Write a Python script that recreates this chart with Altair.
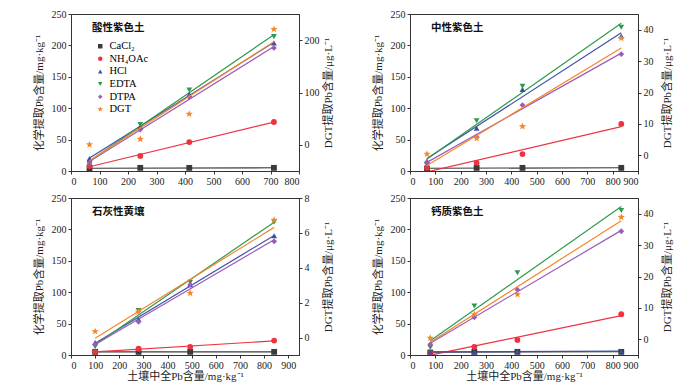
import altair as alt
import pandas as pd
import numpy as np

# ---------------- data ----------------
methods = ["CaCl₂", "NH₄OAc", "HCl", "EDTA", "DTPA"]
dgt_name = "DGT"
soils = ["酸性紫色土", "中性紫色土", "石灰性黄壤", "钙质紫色土"]

# total Pb in soil, mg/kg
x_acid = [65, 243, 415, 712]
x_neutral = [67, 263, 444, 834]
x_lime = [100, 280, 494, 842]
x_calc = [80, 254, 424, 834]

# chemically extracted Pb, mg/kg
acid_cacl2 = [4, 5, 5, 5]
acid_nh4oac = [8, 24, 46, 78]
acid_hcl = [20, 71, 122, 204]
acid_edta = [12, 74, 129, 214]
acid_dtpa = [13, 66, 118, 196]
acid_dgt = [0.4, 11, 59, 221]          # µg/L

neutral_cacl2 = [4, 5, 5, 5]
neutral_nh4oac = [5, 13, 27, 75]
neutral_hcl = [16, 68, 130, 215]
neutral_edta = [10, 80, 135, 229]
neutral_dtpa = [14, 54, 105, 186]
neutral_dgt = [0.4, 5.4, 9.2, 37.3]

lime_cacl2 = [5, 5, 5, 5]
lime_nh4oac = [5, 10, 13, 23]
lime_hcl = [20, 57, 112, 190]
lime_edta = [13, 71, 116, 212]
lime_dtpa = [17, 53, 112, 181]
lime_dgt = [0.35, 1.47, 2.55, 6.74]

calc_cacl2 = [4, 5, 5, 5]
calc_nh4oac = [3, 13, 24, 65]
calc_hcl = [5, 5, 6, 6]
calc_edta = [12, 78, 131, 230]
calc_dtpa = [17, 60, 104, 197]
calc_dgt = [0.4, 7.9, 14.3, 38.9]

# ---------------- styling ----------------
FONT = "Liberation Serif, Noto Sans CJK SC"
all_methods = methods + [dgt_name]
colors = ["#3a3a3a", "#ee3340", "#3d4fa3", "#2f9a4f", "#9a5cba", "#f5862a"]
ang = [-np.pi / 2 + k * np.pi / 5 for k in range(10)]
rad = [1.3 if k % 2 == 0 else 0.55 for k in range(10)]
star = "M" + " L".join(f"{r*np.cos(a):.3f},{r*np.sin(a):.3f}" for r, a in zip(rad, ang)) + " Z"
shapes = ["square", "circle", "triangle-up", "triangle-down", "diamond", star]

XTITLE = "土壤中全Pb含量/mg·kg⁻¹"
YTITLE = "化学提取Pb含量/mg·kg⁻¹"
RTITLE = "DGT提取Pb含量/μg·L⁻¹"

panels = [
    dict(soil=soils[0], x=x_acid,
         chem=[acid_cacl2, acid_nh4oac, acid_hcl, acid_edta, acid_dtpa], dgt=acid_dgt,
         xmax=800, rdom=[-50, 250], rticks=[0, 100, 200], tp=3.5, xtitle=False, legend=True),
    dict(soil=soils[1], x=x_neutral,
         chem=[neutral_cacl2, neutral_nh4oac, neutral_hcl, neutral_edta, neutral_dtpa], dgt=neutral_dgt,
         xmax=900, rdom=[-5, 45], rticks=[0, 10, 20, 30, 40], tp=8.5, xtitle=False, legend=False),
    dict(soil=soils[2], x=x_lime,
         chem=[lime_cacl2, lime_nh4oac, lime_hcl, lime_edta, lime_dtpa], dgt=lime_dgt,
         xmax=945, rdom=[-1, 8], rticks=[0, 2, 4, 6, 8], tp=13.5, xtitle=True, legend=False),
    dict(soil=soils[3], x=x_calc,
         chem=[calc_cacl2, calc_nh4oac, calc_hcl, calc_edta, calc_dtpa], dgt=calc_dgt,
         xmax=900, rdom=[-5, 45], rticks=[0, 10, 20, 30, 40], tp=8.5, xtitle=True, legend=False),
]

W, H = 228, 157


def make_panel(cfg):
    rows = []
    for m, ys in zip(methods, cfg["chem"]):
        for xv, yv in zip(cfg["x"], ys):
            rows.append({"method": m, "x": xv, "y": yv})
    chem = pd.DataFrame(rows)
    dgt = pd.DataFrame({"method": dgt_name, "x": cfg["x"], "y": cfg["dgt"]})

    xvals = list(range(0, min(cfg["xmax"], 900) + 1, 100))
    if cfg["xtitle"]:
        xaxis = alt.Axis(values=xvals, title=XTITLE, titleY=21, titleBaseline="middle")
    else:
        xaxis = alt.Axis(values=xvals, title=None)
    xenc = alt.X("x:Q", scale=alt.Scale(domain=[0, cfg["xmax"]], nice=False, zero=False), axis=xaxis)
    yleft = alt.Y("y:Q", scale=alt.Scale(domain=[0, 250], nice=False),
                  axis=alt.Axis(orient="left", values=[0, 50, 100, 150, 200, 250],
                                title=YTITLE, titlePadding=7))
    yright = alt.Y("y:Q", scale=alt.Scale(domain=cfg["rdom"], nice=False, zero=False),
                   axis=alt.Axis(orient="right", values=cfg["rticks"], title=RTITLE,
                                 titleAngle=270, titleBaseline="top", titlePadding=cfg["tp"]))

    if cfg["legend"]:
        leg = alt.Legend(title=None, orient="none", legendX=24, legendY=27,
                         labelFontSize=10.5, symbolSize=20, rowPadding=1.6,
                         labelOffset=4, padding=0, symbolStrokeWidth=0, labelFont=FONT)
    else:
        leg = None
    cscale = alt.Scale(domain=all_methods, range=colors)
    sscale = alt.Scale(domain=all_methods, range=shapes)
    color = alt.Color("method:N", scale=cscale, legend=leg)
    shape = alt.Shape("method:N", scale=sscale, legend=leg)
    stroke = alt.Stroke("method:N", scale=cscale, legend=None)

    chem_lines = alt.Chart(chem).transform_regression(
        "x", "y", groupby=["method"]).mark_line(clip=True, strokeWidth=1.2).encode(
        x=xenc, y=yleft, stroke=stroke)
    chem_pts = alt.Chart(chem).mark_point(filled=True, size=34, opacity=1, clip=True).encode(
        x=xenc, y=yleft, color=color, shape=shape)
    title = alt.Chart(pd.DataFrame({"label": [cfg["soil"]]})).mark_text(
        align="left", baseline="middle", fontSize=10.5, fontWeight="bold", font=FONT, color="#111"
    ).encode(text="label:N", x=alt.value(21), y=alt.value(14))

    dgt_line = alt.Chart(dgt).transform_regression(
        "x", "y", groupby=["method"]).mark_line(clip=True, strokeWidth=1.2).encode(
        x=xenc, y=yright, stroke=stroke)
    dgt_pts = alt.Chart(dgt).mark_point(filled=True, size=34, opacity=1, clip=True).encode(
        x=xenc, y=yright, color=color, shape=shape)

    left = alt.layer(chem_lines, chem_pts, title)
    right = alt.layer(dgt_line, dgt_pts)
    return alt.layer(left, right).resolve_scale(y="independent").properties(width=W, height=H)


charts = [make_panel(c) for c in panels]

chart = alt.concat(*charts, columns=2, spacing={"row": 5, "column": 37}).resolve_scale(
    color="independent", shape="independent"
).properties(
    padding={"left": 24, "top": 0, "right": 5, "bottom": 5}
).configure(font=FONT).configure_view(
    stroke="#333", strokeWidth=1
).configure_axis(
    labelFontSize=10, titleFontSize=11, titleFontWeight="normal",
    labelFont=FONT, titleFont=FONT,
    tickSize=3, labelPadding=2, grid=False,
    domainColor="#333", tickColor="#333", labelColor="#222", titleColor="#222"
)

chart.save("out.html", embed_options={"renderer": "svg", "actions": False})
